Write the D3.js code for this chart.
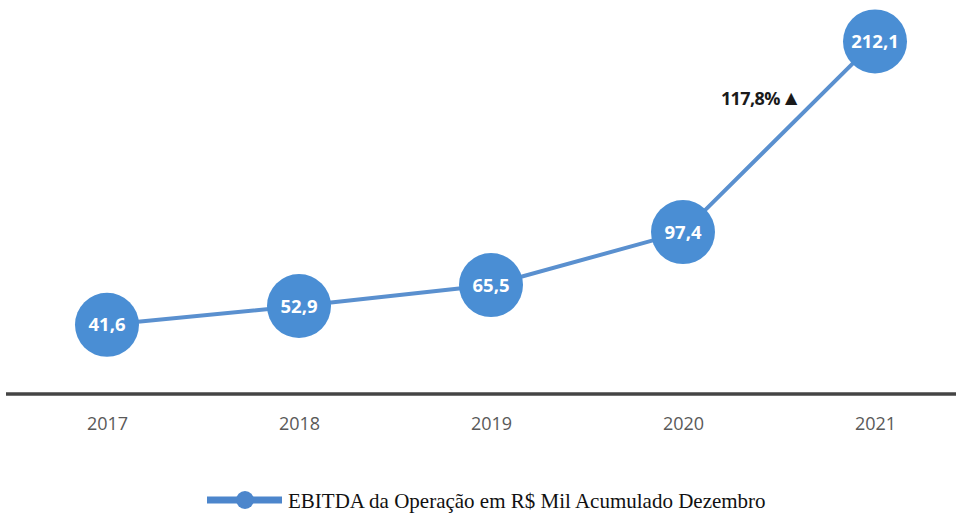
<!DOCTYPE html>
<html><head><meta charset="utf-8">
<script src="https://cdn.jsdelivr.net/npm/d3@7"></script>
<style>body{margin:0;background:#fff}svg{display:block}</style>
</head><body>
<svg id="c" width="956" height="515"></svg>
<script>
const categories = ["2017","2018","2019","2020","2021"];
const values = [41.6, 52.9, 65.5, 97.4, 212.1];
const valueLabels = ["41,6","52,9","65,5","97,4","212,1"];
const growthLabel = "117,8%";
const legendLabel = "EBITDA da Operação em R$ Mil Acumulado Dezembro";

const svg = d3.select("#c");
const x = d3.scalePoint().domain(categories).range([107, 875]);
const y = d3.scaleLinear().domain([0, 237]).range([394, 0]);
const blue = "#4A8ED4";
const lineBlue = "#5A90CF";

// axis line
svg.append("line").attr("x1", 6).attr("x2", 956).attr("y1", y(0)).attr("y2", y(0))
  .attr("stroke", "#444").attr("stroke-width", 3.5);

// tick labels
const xAxis = d3.axisBottom(x).tickSize(0).tickPadding(0);
const gx = svg.append("g").attr("transform", `translate(0,${y(0)})`).call(xAxis);
gx.select(".domain").remove();
gx.selectAll("text").attr("dy", 0).attr("y", 36)
  .attr("font-family", "'Liberation Sans Narrow', 'Open Sans', sans-serif")
  .attr("font-size", 18).attr("fill", "#595959");

// line
const data = categories.map((c, i) => ({c, v: values[i], l: valueLabels[i]}));
svg.append("path").datum(data)
  .attr("d", d3.line().x(d => x(d.c)).y(d => y(d.v)))
  .attr("fill", "none").attr("stroke", lineBlue).attr("stroke-width", 4);

// circles
svg.selectAll("circle.pt").data(data).join("circle").attr("class", "pt")
  .attr("cx", d => x(d.c)).attr("cy", d => y(d.v)).attr("r", 32).attr("fill", blue);

svg.selectAll("text.lbl").data(data).join("text").attr("class", "lbl")
  .attr("x", d => x(d.c)).attr("y", d => y(d.v) + 6.5)
  .attr("text-anchor", "middle").attr("font-family", "'Open Sans', sans-serif")
  .attr("font-weight", "bold").attr("font-size", 18.5).attr("fill", "#fff")
  .text(d => d.l);

// growth annotation
const ax = (x(categories[3]) + x(categories[4])) / 2;
const ay = y((values[3] + values[4]) / 2) - 32;
const ann = svg.append("text").attr("x", ax + 22).attr("y", ay).attr("text-anchor", "end")
  .attr("font-family", "'Open Sans', sans-serif").attr("font-weight", "bold")
  .attr("font-size", 18).attr("fill", "#1a1a1a").attr("letter-spacing", -0.6);
ann.append("tspan").text(growthLabel);
ann.append("tspan").attr("font-size", 21).attr("dx", 1).text("▲");

// legend
const lg = svg.append("g").attr("transform", "translate(207,500)");
lg.append("line").attr("x1", 0).attr("x2", 75).attr("y1", 0).attr("y2", 0)
  .attr("stroke", "#4C86CC").attr("stroke-width", 7);
lg.append("circle").attr("cx", 38).attr("cy", 0).attr("r", 9).attr("fill", "#4C86CC");
lg.append("text").attr("x", 81).attr("y", 8)
  .attr("font-family", "'Liberation Serif', 'Times New Roman', serif")
  .attr("font-size", 21).attr("fill", "#111").text(legendLabel);
</script>
</body></html>
